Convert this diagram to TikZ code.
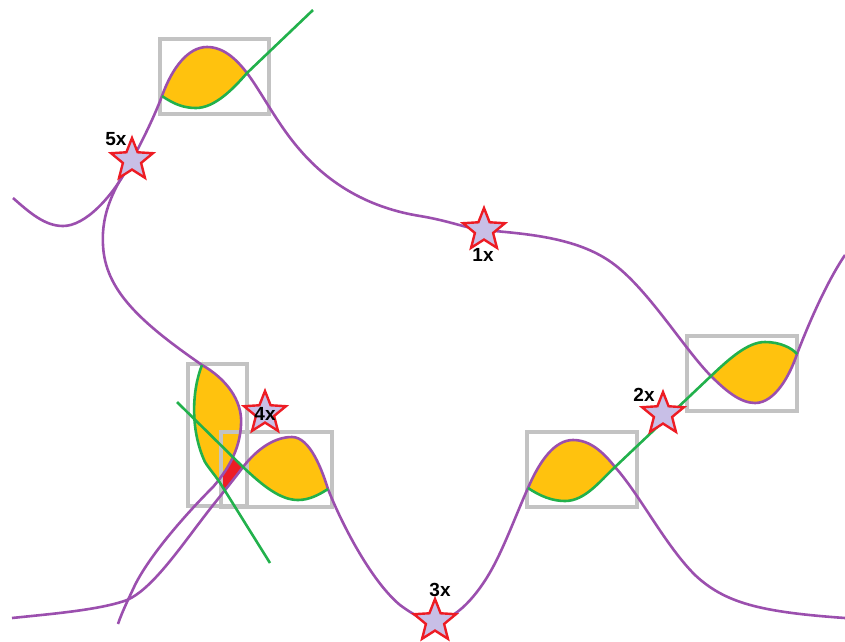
\documentclass[tikz,border=0pt]{standalone}
\usepackage{fontspec}
\setmainfont{Liberation Sans}
\usetikzlibrary{shapes.geometric}
\definecolor{cpurple}{HTML}{9B4FAE}
\definecolor{cgreen}{HTML}{22B14C}
\definecolor{cyellow}{HTML}{FFC20E}
\definecolor{cred}{HTML}{ED1C24}
\definecolor{cgray}{HTML}{C3C3C3}
\definecolor{clav}{HTML}{C8BFE7}
\tikzset{
  pcurve/.style={draw=cpurple,line width=2.6pt},
  gcurve/.style={draw=cgreen,line width=2.6pt},
  gbox/.style={draw=cgray,line width=3.2pt},
  lens/.style={fill=cyellow},
  mstar/.style={star,star points=5,star point ratio=2.3,minimum size=44pt,inner sep=0pt,fill=clav,draw=cred,line width=2.4pt},
  lbl/.style={font=\fontsize{19}{19}\selectfont\bfseries,inner sep=0pt,text=black}
}
\begin{document}
\begin{tikzpicture}[x=1pt,y=-1pt]
\useasboundingbox (0,0) rectangle (845,641);
% yellow lenses
\fill[lens] (162,96) .. controls (172,68) and (188,47) .. (207,47) .. controls (224,47) and (237,60) .. (247,73) .. controls (234,88) and (215,108) .. (196,108) .. controls (185,108) and (175,105) .. (162,96) -- cycle;
\fill[lens] (711,376) .. controls (730,358) and (748,342) .. (765,342) .. controls (780,342) and (792,348) .. (797,354) .. controls (790,375) and (775,403) .. (755,403) .. controls (740,403) and (725,390) .. (711,376) -- cycle;
\fill[lens] (528,488) .. controls (540,460) and (555,440) .. (573,440) .. controls (590,440) and (603,452) .. (615,467) .. controls (600,481) and (585,501) .. (565,501) .. controls (552,501) and (540,496) .. (528,488) -- cycle;
\fill[lens] (243,467) .. controls (258,448) and (275,437) .. (292,437) .. controls (310,437) and (322,470) .. (328,489) .. controls (320,494) and (310,500) .. (298,500) .. controls (280,500) and (262,485) .. (243,467) -- cycle;
% left lens: right of G3 and left of B
\begin{scope}
\clip (202,365) .. controls (192,390) and (190,430) .. (205,462) .. controls (210,470) and (216,476) .. (222,486) -- (270,563) -- (340,563) -- (340,360) -- (202,360) -- cycle;
\clip (202,365) .. controls (225,378) and (243,400) .. (241,425) .. controls (240,445) and (232,465) .. (213,487) -- (213,560) -- (150,560) -- (150,360) -- (202,360) -- cycle;
\fill[lens] (150,355) rectangle (300,520);
\end{scope}
% red patch
\begin{scope}
\clip (202,365) .. controls (192,390) and (190,430) .. (205,462) .. controls (210,470) and (216,476) .. (222,486) -- (270,563) -- (340,563) -- (340,360) -- (202,360) -- cycle;
\clip (202,365) .. controls (225,378) and (243,400) .. (241,425) .. controls (240,445) and (232,465) .. (213,487) -- (213,560) -- (340,560) -- (340,360) -- (202,360) -- cycle;
\clip (200,522) .. controls (215,502) and (232,482) .. (243,467) -- (243,400) -- (150,400) -- (150,522) -- cycle;
\clip (177,402) -- (243,467) -- (243,560) -- (150,560) -- (150,402) -- cycle;
\fill[cred] (190,430) rectangle (260,520);
\end{scope}
% boxes
\draw[gbox] (160,39) rectangle (269,114);
\draw[gbox] (687,336) rectangle (797,411);
\draw[gbox] (527,432) rectangle (637,507);
\draw[gbox] (188,364) rectangle (247,506);
\draw[gbox] (221,432) rectangle (332,507);
% purple curves
\draw[pcurve] (13,198) .. controls (30,213) and (45,226) .. (63,226) .. controls (85,226) and (112,198) .. (131,162) .. controls (140,145) and (153,120) .. (162,96) .. controls (172,68) and (188,47) .. (207,47) .. controls (224,47) and (237,60) .. (247,73) .. controls (262,93) and (278,125) .. (300,150) .. controls (330,185) and (370,208) .. (420,216) .. controls (450,221) and (465,228) .. (483,230) .. controls (530,234) and (580,238) .. (615,265) .. controls (650,292) and (685,350) .. (711,376) .. controls (725,390) and (740,403) .. (755,403) .. controls (775,403) and (790,375) .. (797,354) .. controls (810,320) and (828,280) .. (845,255);
\draw[pcurve] (131,162) .. controls (115,187) and (101,212) .. (103,245) .. controls (105,290) and (140,322) .. (202,365) .. controls (225,378) and (243,400) .. (241,425) .. controls (240,445) and (232,465) .. (213,487) .. controls (185,515) and (150,555) .. (135,585) .. controls (128,600) and (122,612) .. (118,624);
\draw[pcurve] (12,618) .. controls (50,614) and (100,610) .. (127,600) .. controls (150,590) and (175,555) .. (200,522) .. controls (215,502) and (232,482) .. (243,467) .. controls (258,448) and (275,437) .. (292,437) .. controls (310,437) and (322,470) .. (328,489) .. controls (340,520) and (370,580) .. (400,605) .. controls (415,616) and (425,621) .. (435,621) .. controls (455,621) and (478,595) .. (493,567) .. controls (505,545) and (518,510) .. (528,488) .. controls (540,460) and (555,440) .. (573,440) .. controls (590,440) and (603,452) .. (615,467) .. controls (640,495) and (665,545) .. (695,575) .. controls (725,603) and (760,612) .. (845,618);
% green curves
\draw[gcurve] (162,96) .. controls (175,105) and (185,108) .. (196,108) .. controls (215,108) and (234,88) .. (247,73) -- (313,10);
\draw[gcurve] (177,402) -- (243,467) .. controls (262,485) and (280,500) .. (298,500) .. controls (310,500) and (320,494) .. (328,489);
\draw[gcurve] (202,365) .. controls (192,390) and (190,430) .. (205,462) .. controls (210,470) and (216,476) .. (222,486) -- (270,563);
\draw[gcurve] (528,488) .. controls (540,496) and (552,501) .. (565,501) .. controls (585,501) and (600,481) .. (615,467) -- (711,376) .. controls (730,358) and (748,342) .. (765,342) .. controls (780,342) and (792,348) .. (797,354);
% stars
\node[mstar] (s5) at (132,160) {};
\node[mstar] (s1) at (484,230) {};
\node[mstar] (s2) at (663,414) {};
\node[mstar] (s3) at (435,621) {};
\node[mstar] (s4) at (265,413) {};
% labels
\node[lbl] (l5) at (116,139) {5x};
\node[lbl] (l1) at (483,255) {1x};
\node[lbl] (l2) at (644,395) {2x};
\node[lbl] (l3) at (440,590) {3x};
\node[lbl] (l4) at (265,414) {4x};
\end{tikzpicture}
\end{document}
